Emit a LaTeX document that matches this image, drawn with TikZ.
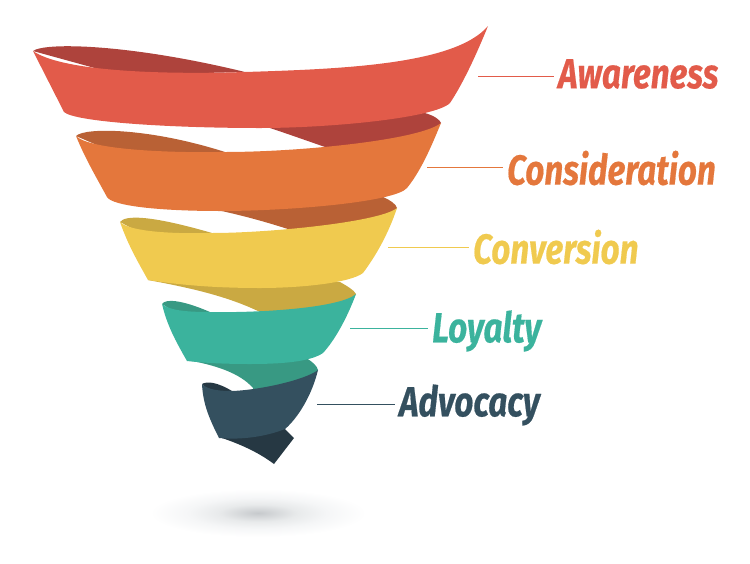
\documentclass[tikz,border=0pt]{standalone}
\usepackage{fontspec}
\newfontfamily\labelfont[FakeStretch=0.79,FakeBold=0.4]{Fira Sans}
\definecolor{redFront}{HTML}{E25B4A}
\definecolor{redBack}{HTML}{AE433C}
\definecolor{orangeFront}{HTML}{E4773C}
\definecolor{orangeBack}{HTML}{B96135}
\definecolor{yellowFront}{HTML}{F0CA4F}
\definecolor{yellowBack}{HTML}{CAA942}
\definecolor{tealFront}{HTML}{3BB39D}
\definecolor{tealBack}{HTML}{389983}
\definecolor{navyFront}{HTML}{34505F}
\definecolor{navyBack}{HTML}{263843}
\definecolor{glowA}{HTML}{C6C9CC}
\definecolor{glowB}{HTML}{E8EAEB}
\definecolor{glowC}{HTML}{F5F6F7}
\pgfdeclareradialshading{floorglow}{\pgfpoint{0bp}{0bp}}{color(0bp)=(glowA); color(9bp)=(glowB); color(16bp)=(glowC); color(25bp)=(white); color(50bp)=(white)}
\tikzset{
    stagelabel/.style={anchor=west, inner xsep=4pt, inner ysep=0pt, font=\labelfont\bfseries\itshape\fontsize{42}{42}\selectfont},
    leader/.style={line width=1pt}
}
\begin{document}
\begin{tikzpicture}[x=1pt, y=-1pt]
    \useasboundingbox (0,0) rectangle (750,563);

    %shadow
    \shade[shading=floorglow] (258,513) ellipse [x radius=108, y radius=24];

    %back parts
    \fill[redBack] (33,51) .. controls (45,42) and (130,44) .. (245,72) -- (120,75) -- cycle;
    \fill[redBack] (425,113) .. controls (435,116) and (440,120) .. (441,123) -- (420,150) -- (325,155) -- (325,147) .. controls (305,140) and (285,133) .. (267,127) -- cycle;
    \fill[orangeBack] (76,136) .. controls (85,127) and (150,128) .. (225,152) -- (120,155) -- cycle;
    \fill[orangeBack] (383,197) .. controls (390,200) and (396,204) .. (397,208) -- (380,235) -- (297,240) -- (297,232) .. controls (270,223) and (245,216) .. (217,210) -- cycle;
    \fill[yellowBack] (120,222) .. controls (125,215) and (150,215) .. (212,233) -- (150,238) -- cycle;
    \fill[yellowBack] (148,280) .. controls (185,287) and (225,295) .. (260,312) -- (260,320) -- (340,320) -- (356,294) .. controls (354,290) and (347,286) .. (340,282) -- cycle;
    \fill[tealBack] (162,304) .. controls (165,299) and (180,299) .. (210,312) -- (180,315) -- cycle;
    \fill[tealBack] (187,360) .. controls (215,365) and (240,373) .. (253,388) -- (253,395) -- (305,395) -- (318,370) .. controls (317,366) and (313,362) .. (306,358) -- cycle;
    \fill[navyBack] (202,384) .. controls (207,381) and (217,382) .. (232,391) -- (215,395) -- cycle;
    \fill[navyBack] (219,437) .. controls (240,444) and (258,452) .. (274,464) -- (294,438) -- (285,429) -- cycle;

    %front parts
    \fill[redFront] (33,51) .. controls (60,70) and (150,75) .. (245,72) .. controls (340,69) and (455,65) .. (488,26) .. controls (475,58) and (462,85) .. (450,103) .. controls (435,118) and (330,128) .. (260,128) .. controls (170,128) and (75,122) .. (64,112) -- cycle;
    \fill[orangeFront] (76,136) .. controls (90,150) and (170,153) .. (225,152) .. controls (300,152) and (420,140) .. (441,123) .. controls (430,150) and (420,172) .. (407,188) .. controls (395,202) and (290,211) .. (220,211) .. controls (160,211) and (112,206) .. (107,197) .. controls (95,175) and (85,158) .. (76,136) -- cycle;
    \fill[yellowFront] (120,222) .. controls (130,232) and (175,234) .. (212,233) .. controls (270,233) and (380,222) .. (397,208) .. controls (388,235) and (375,257) .. (363,273) .. controls (350,283) and (300,288) .. (260,288) .. controls (215,288) and (180,285) .. (148,280) .. controls (138,262) and (128,245) .. (120,222) -- cycle;
    \fill[tealFront] (162,304) .. controls (170,311) and (190,312) .. (210,312) .. controls (260,313) and (340,308) .. (356,294) .. controls (347,318) and (335,340) .. (323,353) .. controls (310,362) and (280,364) .. (250,364) .. controls (225,364) and (205,363) .. (187,361) .. controls (175,340) and (167,325) .. (162,304) -- cycle;
    \fill[navyFront] (202,384) .. controls (208,390) and (220,391) .. (232,391) .. controls (260,390) and (305,380) .. (318,370) .. controls (312,395) and (298,418) .. (285,429) .. controls (265,437) and (240,440) .. (219,438) .. controls (210,420) and (203,405) .. (202,384) -- cycle;

    %labels
    \node[stagelabel, text=redFront] (Awareness) at (554,74) {Awareness};
    \node[stagelabel, text=orangeFront] (Consideration) at (503,168) {Consideration};
    \node[stagelabel, text=yellowFront] (Conversion) at (469,247) {Conversion};
    \node[stagelabel, text=tealFront] (Loyalty) at (428,331) {Loyalty};
    \node[stagelabel, text=navyFront] (Advocacy) at (395,405) {Advocacy};

    %leaders
    \coordinate (R1) at (478,76);
    \coordinate (O1) at (427,167);
    \coordinate (Y1) at (388,247);
    \coordinate (T1) at (350,328);
    \coordinate (N1) at (317,404);
    \draw[leader, redFront] (R1) -- (R1 -| Awareness.west);
    \draw[leader, orangeFront] (O1) -- (O1 -| Consideration.west);
    \draw[leader, yellowFront] (Y1) -- (Y1 -| Conversion.west);
    \draw[leader, tealFront] (T1) -- (T1 -| Loyalty.west);
    \draw[leader, navyFront] (N1) -- (N1 -| Advocacy.west);
\end{tikzpicture}
\end{document}
